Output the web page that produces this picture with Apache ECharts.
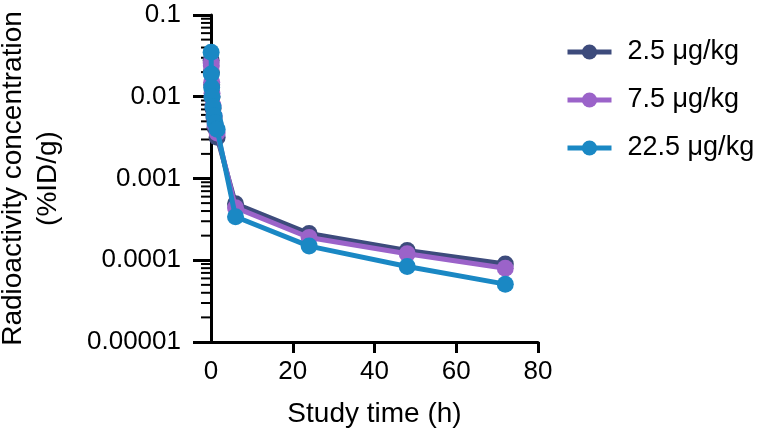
<!DOCTYPE html>
<html>
<head>
<meta charset="utf-8">
<script src="https://cdn.jsdelivr.net/npm/echarts@6/dist/echarts.min.js"></script>
<style>html,body{margin:0;padding:0;background:#fff}#c{width:760px;height:433px}</style>
</head>
<body>
<div id="c"></div>
<script>
// Study time (h)
const times = [0.033, 0.083, 0.167, 0.25, 0.5, 0.75, 1, 1.5, 6, 24, 48, 72];
const seriesNames = ['2.5 μg/kg', '7.5 μg/kg', '22.5 μg/kg'];
const dose25 = [0.028, 0.020, 0.014, 0.010, 0.0072, 0.0055, 0.0042, 0.0032, 0.00049, 0.000212, 0.000132, 0.000090];
const dose75 = [0.026, 0.024, 0.015, 0.011, 0.0078, 0.0058, 0.0045, 0.0036, 0.00044, 0.00019, 0.00012, 0.000080];
const dose225 = [0.035, 0.019, 0.013, 0.010, 0.0075, 0.0058, 0.0048, 0.0040, 0.00034, 0.000149, 0.000084, 0.000051];
const colors = ['#3d4b7c', '#9b63c9', '#1a88c4'];
const xTicks = [0, 20, 40, 60, 80];
const yTickLabels = ['0.00001', '0.0001', '0.001', '0.01', '0.1'];

const minorTickValues = [];
for (let e = -5; e < -1; e++) {
  for (let m = 2; m <= 9; m++) minorTickValues.push(m * Math.pow(10, e));
}

const FONT = 'Liberation Sans, Arial, Helvetica, sans-serif';
const allData = [dose25, dose75, dose225];

const chart = echarts.init(document.getElementById('c'), null, {renderer: 'canvas'});
const series = allData.map((d, i) => ({
  name: seriesNames[i],
  type: 'line',
  data: times.map((t, k) => [t, d[k]]),
  symbol: 'circle',
  symbolSize: 17,
  showAllSymbol: true,
  lineStyle: {color: colors[i], width: 5},
  itemStyle: {color: colors[i]},
  emphasis: {disabled: true},
  animation: false,
  z: 3 + i
}));
series.push({
  type: 'custom',
  data: minorTickValues.map(v => [0, v]),
  silent: true,
  animation: false,
  clip: false,
  renderItem: function (params, api) {
    const p = api.coord([0, api.value(1)]);
    return {
      type: 'line',
      shape: {x1: p[0] - 10, y1: p[1], x2: p[0], y2: p[1]},
      style: {stroke: '#000', lineWidth: 2}
    };
  }
});

chart.setOption({
  animation: false,
  grid: {left: 211, right: 222, top: 15, bottom: 91, outerBoundsMode: 'none', containLabel: false},
  legend: {
    orient: 'vertical',
    left: 560,
    top: 33,
    itemWidth: 44,
    itemHeight: 19,
    itemGap: 20,
    data: seriesNames,
    lineStyle: {width: 5},
    textStyle: {fontFamily: FONT, fontSize: 27, color: '#000', lineHeight: 28, padding: [0, 0, 0, 11]}
  },
  xAxis: {
    type: 'value',
    min: 0, max: 80, interval: 20,
    name: 'Study time (h)',
    nameLocation: 'middle',
    nameGap: 58,
    nameTextStyle: {fontFamily: FONT, fontSize: 28, color: '#000'},
    axisLine: {lineStyle: {color: '#000', width: 3}},
    axisTick: {length: 11, lineStyle: {color: '#000', width: 3}, customValues: [20, 40, 60, 80]},
    axisLabel: {fontFamily: FONT, fontSize: 26, color: '#000', margin: 17,
      formatter: v => xTicks.indexOf(v) >= 0 ? String(v) : ''},
    splitLine: {show: false}
  },
  yAxis: {
    type: 'log',
    logBase: 10,
    min: 0.00001, max: 0.1,
    name: 'Radioactivity concentration\n(%ID/g)',
    nameLocation: 'middle',
    nameGap: 145,
    nameRotate: 90,
    nameTextStyle: {fontFamily: FONT, fontSize: 28, color: '#000', lineHeight: 35},
    axisLine: {show: true, lineStyle: {color: '#000', width: 3}},
    axisTick: {length: 18, lineStyle: {color: '#000', width: 3}},
    axisLabel: {fontFamily: FONT, fontSize: 26, color: '#000', margin: 30,
      formatter: function (v) {
        const k = Math.round(Math.log10(v)) + 5;
        return yTickLabels[k] || '';
      }},
    splitLine: {show: false}
  },
  series: series
});
</script>
</body>
</html>
